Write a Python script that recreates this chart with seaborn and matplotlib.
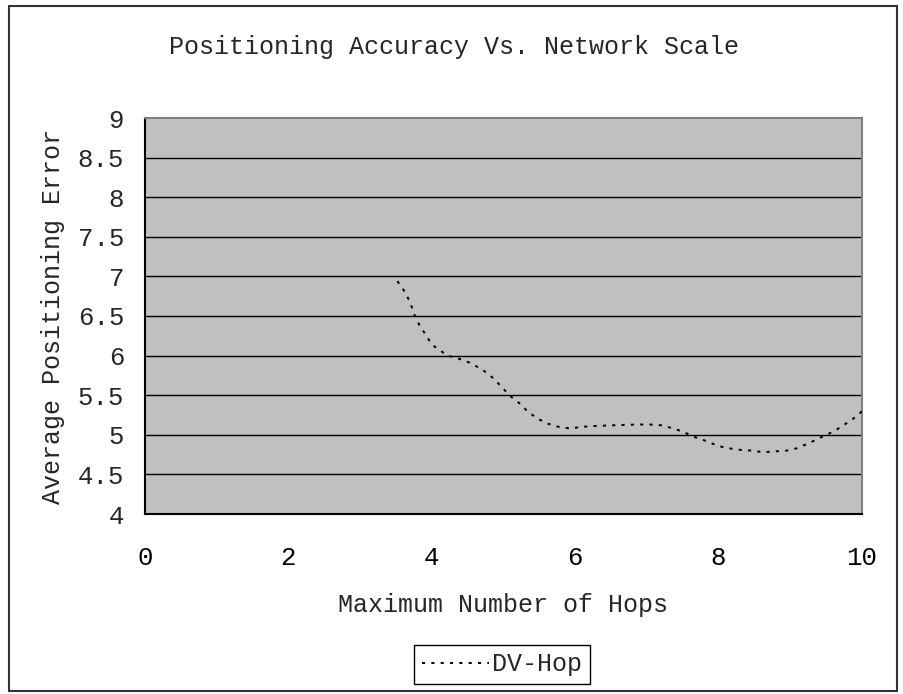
import matplotlib
matplotlib.use("Agg")
import matplotlib.pyplot as plt
from matplotlib.patches import Rectangle
from matplotlib.ticker import FuncFormatter
import seaborn as sns
import pandas as pd

# ---- data ----
hops = [3.52, 3.62, 3.70, 3.75, 3.83, 3.91, 4.00, 4.06, 4.22, 4.38,
        4.53, 4.71, 4.85, 4.97, 5.08, 5.22, 5.32, 5.46, 5.62, 5.77,
        5.93, 6.09, 6.25, 6.53, 6.88, 7.04, 7.20, 7.37, 7.50, 7.67,
        7.83, 7.99, 8.14, 8.30, 8.46, 8.62, 8.78, 8.95, 9.09, 9.25,
        9.41, 9.62, 9.79, 9.92, 10.0]
error = [6.94, 6.81, 6.67, 6.53, 6.38, 6.27, 6.14, 6.10, 6.00, 5.96,
         5.91, 5.82, 5.72, 5.61, 5.50, 5.40, 5.31, 5.21, 5.14, 5.10,
         5.08, 5.10, 5.11, 5.12, 5.13, 5.13, 5.12, 5.08, 5.04, 4.97,
         4.92, 4.86, 4.83, 4.81, 4.80, 4.78, 4.79, 4.80, 4.83, 4.89,
         4.96, 5.05, 5.15, 5.23, 5.30]
series_name = "DV-Hop"
x_ticks = [0, 2, 4, 6, 8, 10]
y_ticks = [4, 4.5, 5, 5.5, 6, 6.5, 7, 7.5, 8, 8.5, 9]
title = "Positioning Accuracy Vs. Network Scale"
x_label = "Maximum Number of Hops"
y_label = "Average Positioning Error"

df = pd.DataFrame({"hops": hops, "error": error})

sns.set_style("white")
plt.rcParams["font.family"] = ["Liberation Mono", "DejaVu Sans Mono"]
FS = 18
TICK_FS = 18.5

fig = plt.figure(figsize=(9.04, 6.94), dpi=100)
ax = fig.add_axes([145 / 904, 1 - 514 / 694, (862 - 145) / 904, (514 - 118) / 694])
ax.set_facecolor("#C0C0C0")

sns.lineplot(data=df, x="hops", y="error", ax=ax, color="black",
             linewidth=1.4, linestyle=(0, (1.6, 3.2)), label=series_name,
             sort=False, estimator=None, zorder=3)

ax.set_xlim(0, 10)
ax.set_ylim(4, 9)
ax.set_xticks(x_ticks)
ax.set_yticks(y_ticks)
ax.yaxis.set_major_formatter(FuncFormatter(lambda v, p: f"{v:g}"))
ax.xaxis.set_major_formatter(FuncFormatter(lambda v, p: f"{v:g}"))
for yv in y_ticks[1:-1]:
    ax.axhline(yv, color="black", lw=1.0, zorder=1)

ax.tick_params(axis="x", direction="in", length=7, width=1, color="#444444",
               pad=23, labelsize=TICK_FS, labelcolor="black")
ax.tick_params(axis="y", length=0, pad=15, labelsize=TICK_FS)
ax.set_xlabel(x_label, fontsize=FS)
ax.set_ylabel(y_label, fontsize=FS)
ax.xaxis.set_label_coords(0.5, -0.20)
ax.yaxis.set_label_coords(-0.112, 0.5)

for side in ["left", "bottom"]:
    ax.spines[side].set_color("black")
    ax.spines[side].set_linewidth(1.5)
for side in ["top", "right"]:
    ax.spines[side].set_color("#808080")
    ax.spines[side].set_linewidth(1.5)
    ax.spines[side].set_visible(True)

fig.text(454 / 904, 1 - 47 / 694, title, ha="center", va="center", fontsize=FS)

leg = ax.legend(loc="center", bbox_to_anchor=(502 / 904, 1 - 664.5 / 694),
                bbox_transform=fig.transFigure, fontsize=FS, frameon=True,
                fancybox=False, edgecolor="black", framealpha=1,
                handlelength=2.7, handletextpad=0.1, borderpad=0.3,
                borderaxespad=0)
leg.get_frame().set_linewidth(1.0)

fig.patches.append(Rectangle((8.5 / 904, 1 - 691 / 694), (897 - 8.5) / 904,
                             (691 - 6) / 694, transform=fig.transFigure,
                             fill=False, edgecolor="#333333", linewidth=1.5))

fig.savefig("out.png", dpi=100, facecolor="white")
